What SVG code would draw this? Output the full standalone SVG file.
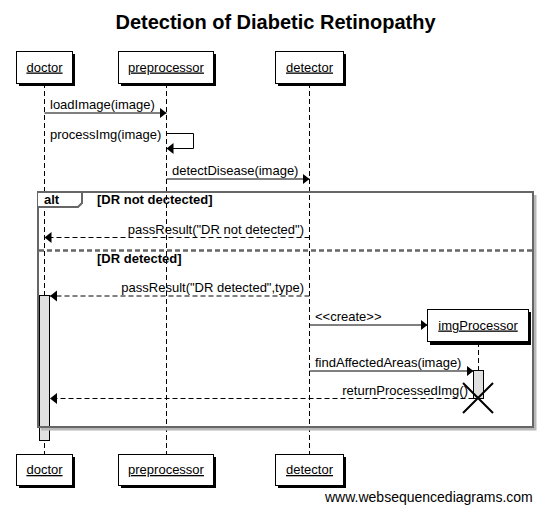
<svg xmlns="http://www.w3.org/2000/svg" width="545" height="510" viewBox="0 0 545 510">
<style>
text{font-family:"Liberation Sans",Arial,sans-serif;font-size:13px;fill:#000}
.title{font-size:20px;font-weight:bold}
.pl{text-decoration:underline}
.box{fill:#fff;stroke:#000;stroke-width:1}
.shadow{fill:#000;filter:url(#blur)}
.life{stroke:#000;stroke-width:1;stroke-dasharray:5,3;fill:none}
.msg{stroke:#000;stroke-width:1;fill:none;marker-end:url(#arr)}
.ret{stroke:#000;stroke-width:1;fill:none;stroke-dasharray:5,3;marker-end:url(#arr)}
.act{fill:#e0e0e0;stroke:#000;stroke-width:1}
.frame{fill:none;stroke:#666;stroke-width:2}
.fl{font-weight:bold}
.wm{font-size:14px}
</style>
<defs>
<filter id="blur" x="-10%" y="-10%" width="120%" height="120%"><feGaussianBlur stdDeviation="0.6"/></filter>
<marker id="arr" markerUnits="userSpaceOnUse" markerWidth="8" markerHeight="12" refX="7" refY="6" orient="auto"><path d="M0,0.5 L7,6 L0,11.5 z" fill="#000"/></marker>
</defs>
<rect width="545" height="510" fill="#fff"/>
<text class="title" x="275.5" y="28.5" text-anchor="middle">Detection of Diabetic Retinopathy</text>

<g id="lifelines">
<line class="life" x1="44.5" y1="83" x2="44.5" y2="454"/>
<line class="life" x1="166.5" y1="83" x2="166.5" y2="454"/>
<line class="life" x1="309.5" y1="83" x2="309.5" y2="454"/>
<line class="life" x1="478.5" y1="342" x2="478.5" y2="370"/>
</g>

<g id="doctor">
<rect class="shadow" x="19" y="54" width="56" height="32"/>
<rect class="box" x="16.5" y="51.5" width="56" height="32"/>
<text class="pl" x="44.5" y="71.5" text-anchor="middle">doctor</text>
<rect class="shadow" x="19" y="457" width="56" height="31"/>
<rect class="box" x="16.5" y="454.5" width="56" height="31"/>
<text class="pl" x="44.5" y="474" text-anchor="middle">doctor</text>
<rect class="act" x="39.5" y="295.5" width="10" height="145"/>
</g>

<g id="preprocessor">
<rect class="shadow" x="121" y="54" width="95" height="32"/>
<rect class="box" x="118.5" y="51.5" width="95" height="32"/>
<text class="pl" x="166" y="71.5" text-anchor="middle">preprocessor</text>
<rect class="shadow" x="121" y="457" width="95" height="31"/>
<rect class="box" x="118.5" y="454.5" width="95" height="31"/>
<text class="pl" x="166" y="474" text-anchor="middle">preprocessor</text>
</g>

<g id="detector">
<rect class="shadow" x="278" y="54" width="68" height="32"/>
<rect class="box" x="275.5" y="51.5" width="68" height="32"/>
<text class="pl" x="309.5" y="71.5" text-anchor="middle">detector</text>
<rect class="shadow" x="278" y="457" width="68" height="31"/>
<rect class="box" x="275.5" y="454.5" width="68" height="31"/>
<text class="pl" x="309.5" y="474" text-anchor="middle">detector</text>
</g>

<g id="imgProcessor">
<rect class="shadow" x="430" y="312" width="101" height="33"/>
<rect class="box" x="427.5" y="309.5" width="101" height="32"/>
<text class="pl" x="478" y="329.5" text-anchor="middle">imgProcessor</text>
<rect class="act" x="473.5" y="370.5" width="10" height="28"/>
<path d="M463,383 L493,413 M493,383 L463,413" stroke="#000" stroke-width="2" fill="none"/>
</g>

<g id="alt-frame">
<path d="M535,195 V429 H41" fill="none" stroke="#b8b8b8" stroke-width="3"/>
<rect class="frame" x="38" y="192" width="495" height="235"/>
<path d="M38,192 H82 V203 L78,207 H38" fill="#fff" stroke="#666" stroke-width="2"/>
<text class="fl" x="44" y="204">alt</text>
<text class="fl" x="97" y="204">[DR not dectected]</text>
<line x1="39" y1="250.5" x2="532" y2="250.5" stroke="#666" stroke-width="2.5" stroke-dasharray="5,3"/>
<text class="fl" x="97" y="263">[DR detected]</text>
</g>

<g id="connectors">
<line class="msg" x1="44.5" y1="113" x2="166.5" y2="113"/>
<text x="50" y="109">loadImage(image)</text>
<path class="msg" d="M166.5,133.5 H193.5 V148.5 H166.5"/>
<text x="50" y="139">processImg(image)</text>
<line class="msg" x1="166.5" y1="179" x2="309.5" y2="179"/>
<text x="172" y="175">detectDisease(image)</text>
<line class="ret" x1="309.5" y1="237.5" x2="44.5" y2="237.5"/>
<text x="304" y="233.5" text-anchor="end">passResult("DR not detected")</text>
<line class="ret" x1="309.5" y1="296" x2="50" y2="296"/>
<text x="304" y="292" text-anchor="end">passResult("DR detected",type)</text>
<line class="msg" x1="309.5" y1="325" x2="427.5" y2="325"/>
<text x="315" y="320.5">&lt;&lt;create&gt;&gt;</text>
<line class="msg" x1="309.5" y1="371" x2="473.5" y2="371"/>
<text x="315" y="367">findAffectedAreas(image)</text>
<line class="ret" x1="473.5" y1="398.5" x2="50" y2="398.5"/>
<text x="468" y="395" text-anchor="end">returnProcessedImg()</text>
</g>

<text class="wm" x="325" y="501.5">www.websequencediagrams.com</text>
</svg>
